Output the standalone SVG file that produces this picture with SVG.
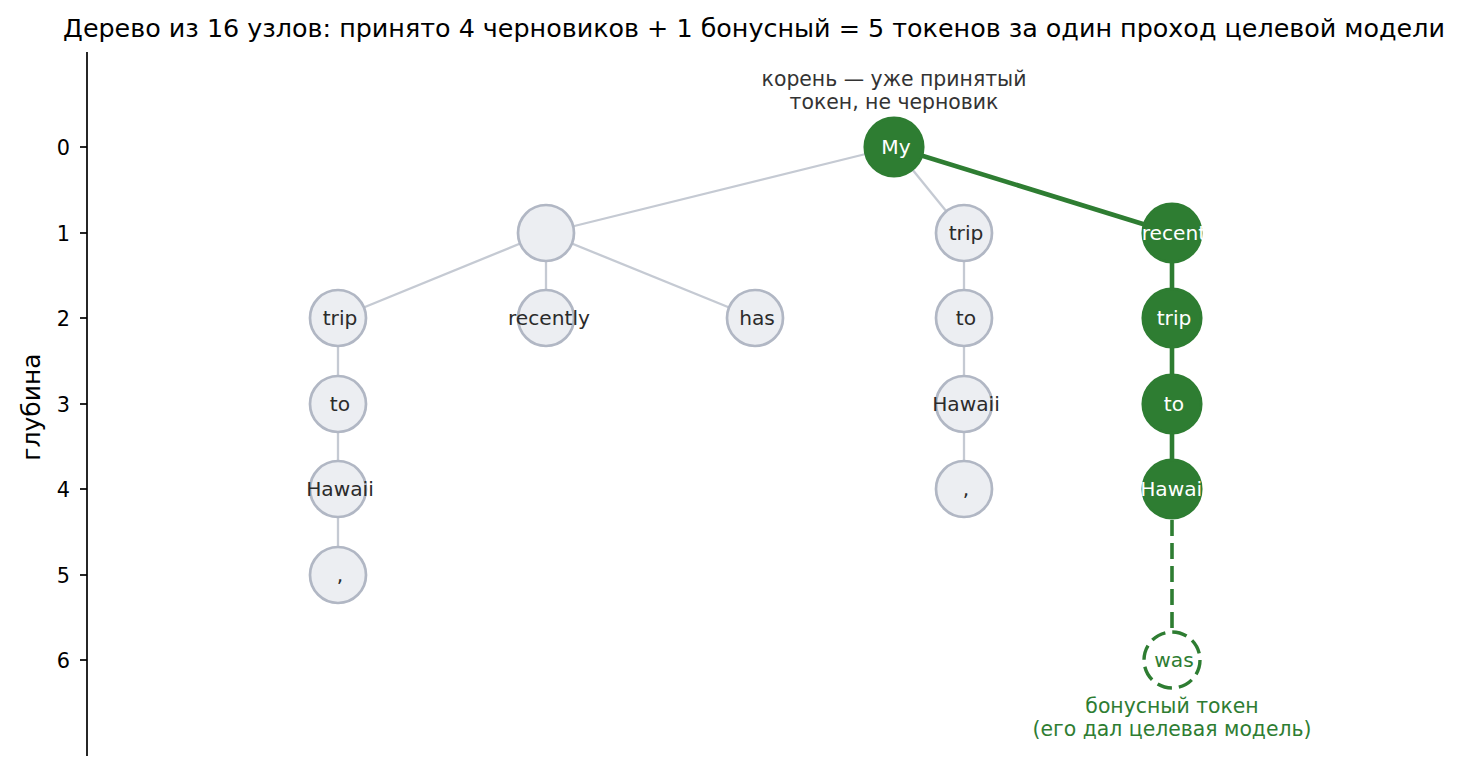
<svg xmlns="http://www.w3.org/2000/svg" width="1463" height="773" viewBox="0 0 1463 773">
<style>
text{font-family:"DejaVu Sans","Noto Sans",sans-serif}
.title{font-size:25.4px;fill:#000;text-anchor:middle}
.tick{font-size:20.8px;fill:#000;text-anchor:end}
.ylab{font-size:25px;fill:#000;text-anchor:middle}
.ax{stroke:#000;stroke-width:1.7;fill:none}
.e{stroke:#c5cad3;stroke-width:2.3;fill:none}
.g{stroke:#2e7d32;stroke-width:4.6;fill:none}
.gd{stroke:#2e7d32;stroke-width:3.6;fill:none;stroke-dasharray:16 7}
.n circle{fill:#eceef2;stroke:#b1b7c4;stroke-width:2.7}
.n text{font-size:20.2px;fill:#2b2b2b;text-anchor:middle}
.a circle{fill:#2e7d32;stroke:#2e7d32;stroke-width:2.7}
.a text{font-size:20.2px;fill:#fff;text-anchor:middle}
.b circle{fill:#fff;stroke:#2e7d32;stroke-width:3.4;stroke-dasharray:15 7}
.b text{font-size:20.2px;fill:#2e7d32;text-anchor:middle}
.note{font-size:20.4px;fill:#333;text-anchor:middle}
.gnote{font-size:20.4px;fill:#2e7d32;text-anchor:middle}
</style>
<rect width="1463" height="773" fill="#fff"/>
<text class="title" x="754" y="37">Дерево из 16 узлов: принято 4 черновиков + 1 бонусный = 5 токенов за один проход целевой модели</text>
<g id="axis">
<line class="ax" x1="87" y1="52" x2="87" y2="756"/>
<g class="ax">
<line x1="80" y1="147" x2="87" y2="147"/><line x1="80" y1="233" x2="87" y2="233"/><line x1="80" y1="318" x2="87" y2="318"/><line x1="80" y1="404" x2="87" y2="404"/><line x1="80" y1="489" x2="87" y2="489"/><line x1="80" y1="575" x2="87" y2="575"/><line x1="80" y1="660" x2="87" y2="660"/>
</g>
<text class="tick" x="70" y="155">0</text>
<text class="tick" x="70" y="241">1</text>
<text class="tick" x="70" y="326">2</text>
<text class="tick" x="70" y="412">3</text>
<text class="tick" x="70" y="497">4</text>
<text class="tick" x="70" y="583">5</text>
<text class="tick" x="70" y="668">6</text>
<text class="ylab" x="0" y="0" transform="translate(40 407) rotate(-90)">глубина</text>
</g>
<g id="connectors">
<line class="e" x1="894" y1="147" x2="546" y2="233"/>
<line class="e" x1="894" y1="147" x2="964" y2="233"/>
<line class="e" x1="546" y1="233" x2="338" y2="318"/>
<line class="e" x1="546" y1="233" x2="546" y2="318"/>
<line class="e" x1="546" y1="233" x2="755" y2="318"/>
<line class="e" x1="338" y1="318" x2="338" y2="575"/>
<line class="e" x1="964" y1="233" x2="964" y2="489"/>
<line class="g" x1="894" y1="147" x2="1172" y2="233"/>
<line class="g" x1="1172" y1="233" x2="1172" y2="489"/>
<line class="gd" x1="1172" y1="520" x2="1172" y2="630"/>
</g>
<g id="root" class="a"><circle cx="894" cy="147" r="29.2"/><text x="896" y="154">My</text></g>
<g id="n1a" class="n"><circle cx="546" cy="233" r="28"/></g>
<g id="n1b" class="n"><circle cx="964" cy="233" r="28"/><text x="966" y="240">trip</text></g>
<g id="n1c" class="a"><circle cx="1172" cy="233" r="29.2"/><text x="1174" y="240">recent</text></g>
<g id="n2a" class="n"><circle cx="338" cy="318" r="28"/><text x="340" y="325">trip</text></g>
<g id="n2b" class="n"><circle cx="546" cy="318" r="28"/><text x="549" y="325">recently</text></g>
<g id="n2c" class="n"><circle cx="755" cy="318" r="28"/><text x="757" y="325">has</text></g>
<g id="n2d" class="n"><circle cx="964" cy="318" r="28"/><text x="966" y="325">to</text></g>
<g id="n2e" class="a"><circle cx="1172" cy="318" r="29.2"/><text x="1174" y="325">trip</text></g>
<g id="n3a" class="n"><circle cx="338" cy="404" r="28"/><text x="340" y="411">to</text></g>
<g id="n3b" class="n"><circle cx="964" cy="404" r="28"/><text x="966" y="411">Hawaii</text></g>
<g id="n3c" class="a"><circle cx="1172" cy="404" r="29.2"/><text x="1174" y="411">to</text></g>
<g id="n4a" class="n"><circle cx="338" cy="489" r="28"/><text x="340" y="496">Hawaii</text></g>
<g id="n4b" class="n"><circle cx="964" cy="489" r="28"/><text x="966" y="496">,</text></g>
<g id="n4c" class="a"><circle cx="1172" cy="489" r="29.2"/><text x="1174" y="496">Hawaii</text></g>
<g id="n5a" class="n"><circle cx="338" cy="575" r="28"/><text x="340" y="582">,</text></g>
<g id="bonus" class="b"><circle cx="1172" cy="660" r="28"/><text x="1174" y="667">was</text></g>
<g id="notes">
<text class="note" x="894" y="86">корень — уже принятый</text>
<text class="note" x="894" y="109">токен, не черновик</text>
<text class="gnote" x="1172" y="713">бонусный токен</text>
<text class="gnote" x="1172" y="736">(его дал целевая модель)</text>
</g>
</svg>
